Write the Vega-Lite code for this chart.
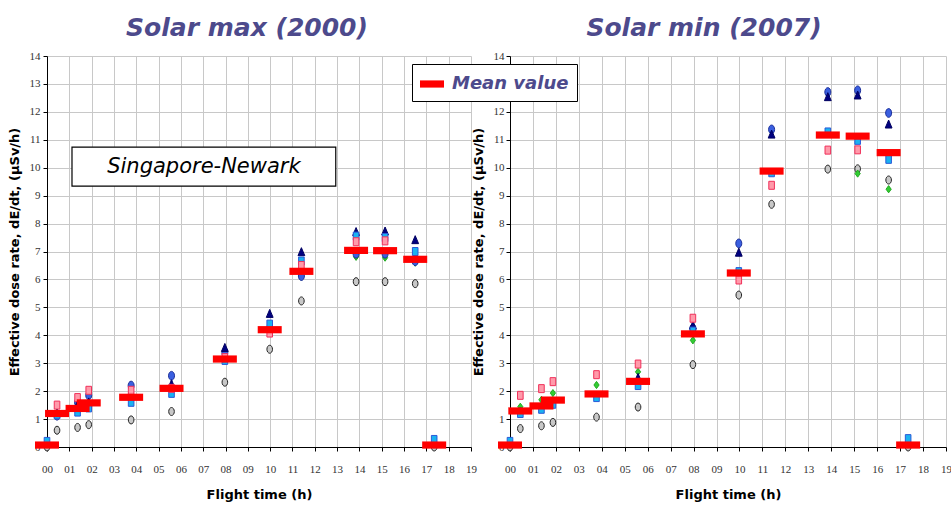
{
  "$schema": "https://vega.github.io/schema/vega-lite/v6.json",
  "padding": {"left": 8, "top": 16, "right": 2, "bottom": 2},
  "bounds": "flush",
  "spacing": 39,
  "config": {
    "view": {"stroke": null},
    "axis": {
      "gridColor": "#c8c8c8", "gridWidth": 1, "domainColor": "#000000", "tickColor": "#000000", "tickSize": 4,
      "labelFont": "Liberation Sans Narrow", "labelFontSize": 11, "labelColor": "#333333", "labelOverlap": false,
      "titleFont": "DejaVu Sans", "titleFontSize": 13, "titleFontWeight": "bold", "titleColor": "#000000"
    },
    "title": {"font": "DejaVu Sans", "fontSize": 25, "fontStyle": "italic", "fontWeight": "bold", "color": "#4d4a8c", "anchor": "middle", "offset": 9}
  },
  "datasets": {
    "max": [
      {"s":"s6","h":0,"v":0},{"s":"s3","h":0,"v":0.2},{"s":"Mean value","h":0,"v":0.07},
      {"s":"s6","h":0.45,"v":0.6},{"s":"s1","h":0.45,"v":1.12},{"s":"s2","h":0.45,"v":1.22},{"s":"s3","h":0.45,"v":1.15},{"s":"s4","h":0.45,"v":1.5},{"s":"Mean value","h":0.45,"v":1.2},
      {"s":"s6","h":1.37,"v":0.7},{"s":"s1","h":1.37,"v":1.6},{"s":"s2","h":1.37,"v":1.5},{"s":"s3","h":1.37,"v":1.25},{"s":"s4","h":1.37,"v":1.77},{"s":"Mean value","h":1.37,"v":1.38},
      {"s":"s6","h":1.87,"v":0.8},{"s":"s1","h":1.87,"v":1.85},{"s":"s2","h":1.87,"v":1.6},{"s":"s3","h":1.87,"v":1.4},{"s":"s4","h":1.87,"v":2.03},{"s":"Mean value","h":1.87,"v":1.58},
      {"s":"s6","h":3.77,"v":0.97},{"s":"s1","h":3.77,"v":2.2},{"s":"s2","h":3.77,"v":1.95},{"s":"s3","h":3.77,"v":1.6},{"s":"s4","h":3.77,"v":2.03},{"s":"Mean value","h":3.77,"v":1.78},
      {"s":"s6","h":5.58,"v":1.27},{"s":"s1","h":5.58,"v":2.55},{"s":"s2","h":5.58,"v":2.25},{"s":"s3","h":5.58,"v":1.92},{"s":"s4","h":5.58,"v":2.1},{"s":"Mean value","h":5.58,"v":2.1},
      {"s":"s6","h":7.97,"v":2.32},{"s":"s1","h":7.97,"v":3.38},{"s":"s2","h":7.97,"v":3.55},{"s":"s3","h":7.97,"v":3.1},{"s":"s4","h":7.97,"v":3.2},{"s":"Mean value","h":7.97,"v":3.15},
      {"s":"s6","h":9.98,"v":3.5},{"s":"s1","h":9.98,"v":4.25},{"s":"s2","h":9.98,"v":4.77},{"s":"s3","h":9.98,"v":4.4},{"s":"s4","h":9.98,"v":4.08},{"s":"Mean value","h":9.98,"v":4.2},
      {"s":"s6","h":11.4,"v":5.23},{"s":"s5","h":11.4,"v":6.1},{"s":"s1","h":11.4,"v":6.12},{"s":"s2","h":11.4,"v":6.98},{"s":"s3","h":11.4,"v":6.66},{"s":"s4","h":11.4,"v":6.5},{"s":"Mean value","h":11.4,"v":6.29},
      {"s":"s6","h":13.85,"v":5.92},{"s":"s5","h":13.85,"v":6.81},{"s":"s1","h":13.85,"v":6.92},{"s":"s2","h":13.85,"v":7.7},{"s":"s3","h":13.85,"v":7.55},{"s":"s4","h":13.85,"v":7.35},{"s":"Mean value","h":13.85,"v":7.04},
      {"s":"s6","h":15.15,"v":5.92},{"s":"s5","h":15.15,"v":6.78},{"s":"s1","h":15.15,"v":6.92},{"s":"s2","h":15.15,"v":7.72},{"s":"s3","h":15.15,"v":7.5},{"s":"s4","h":15.15,"v":7.38},{"s":"Mean value","h":15.15,"v":7.03},
      {"s":"s6","h":16.5,"v":5.85},{"s":"s5","h":16.5,"v":6.6},{"s":"s1","h":16.5,"v":6.65},{"s":"s2","h":16.5,"v":7.41},{"s":"s3","h":16.5,"v":7.0},{"s":"Mean value","h":16.5,"v":6.72},
      {"s":"s6","h":17.35,"v":0},{"s":"s3","h":17.35,"v":0.27},{"s":"Mean value","h":17.35,"v":0.07}
    ],
    "min": [
      {"s":"s6","h":0,"v":0},{"s":"s3","h":0,"v":0.2},{"s":"Mean value","h":0,"v":0.07},
      {"s":"s6","h":0.45,"v":0.66},{"s":"s5","h":0.45,"v":1.44},{"s":"s1","h":0.45,"v":1.25},{"s":"s3","h":0.45,"v":1.2},{"s":"s4","h":0.45,"v":1.85},{"s":"Mean value","h":0.45,"v":1.29},
      {"s":"s6","h":1.37,"v":0.76},{"s":"s5","h":1.37,"v":1.69},{"s":"s3","h":1.37,"v":1.35},{"s":"s4","h":1.37,"v":2.09},{"s":"Mean value","h":1.37,"v":1.47},
      {"s":"s6","h":1.87,"v":0.88},{"s":"s5","h":1.87,"v":1.93},{"s":"s3","h":1.87,"v":1.53},{"s":"s4","h":1.87,"v":2.34},{"s":"Mean value","h":1.87,"v":1.68},
      {"s":"s6","h":3.77,"v":1.07},{"s":"s5","h":3.77,"v":2.22},{"s":"s3","h":3.77,"v":1.77},{"s":"s4","h":3.77,"v":2.59},{"s":"Mean value","h":3.77,"v":1.9},
      {"s":"s6","h":5.58,"v":1.43},{"s":"s5","h":5.58,"v":2.69},{"s":"s2","h":5.58,"v":2.48},{"s":"s3","h":5.58,"v":2.2},{"s":"s4","h":5.58,"v":2.97},{"s":"Mean value","h":5.58,"v":2.35},
      {"s":"s6","h":7.97,"v":2.95},{"s":"s5","h":7.97,"v":3.82},{"s":"s1","h":7.97,"v":4.25},{"s":"s2","h":7.97,"v":4.35},{"s":"s3","h":7.97,"v":4.15},{"s":"s4","h":7.97,"v":4.61},{"s":"Mean value","h":7.97,"v":4.05},
      {"s":"s6","h":9.97,"v":5.44},{"s":"s1","h":9.97,"v":7.29},{"s":"s2","h":9.97,"v":6.96},{"s":"s3","h":9.97,"v":6.28},{"s":"s4","h":9.97,"v":5.98},{"s":"Mean value","h":9.97,"v":6.23},
      {"s":"s6","h":11.4,"v":8.69},{"s":"s1","h":11.4,"v":11.37},{"s":"s2","h":11.4,"v":11.19},{"s":"s3","h":11.4,"v":9.82},{"s":"s4","h":11.4,"v":9.37},{"s":"Mean value","h":11.4,"v":9.88},
      {"s":"s6","h":13.85,"v":9.95},{"s":"s1","h":13.85,"v":12.71},{"s":"s2","h":13.85,"v":12.53},{"s":"s3","h":13.85,"v":11.28},{"s":"s4","h":13.85,"v":10.63},{"s":"Mean value","h":13.85,"v":11.17},
      {"s":"s6","h":15.15,"v":9.96},{"s":"s5","h":15.15,"v":9.79},{"s":"s1","h":15.15,"v":12.77},{"s":"s2","h":15.15,"v":12.59},{"s":"s3","h":15.15,"v":10.98},{"s":"s4","h":15.15,"v":10.64},{"s":"Mean value","h":15.15,"v":11.13},
      {"s":"s6","h":16.5,"v":9.56},{"s":"s5","h":16.5,"v":9.23},{"s":"s1","h":16.5,"v":11.96},{"s":"s2","h":16.5,"v":11.55},{"s":"s3","h":16.5,"v":10.3},{"s":"Mean value","h":16.5,"v":10.54},
      {"s":"s6","h":17.35,"v":0},{"s":"s3","h":17.35,"v":0.3},{"s":"Mean value","h":17.35,"v":0.07}
    ]
  },
  "hconcat": [
    {
      "width": 424, "height": 391,
      "title": {"text": "Solar max (2000)", "dx": -12},
      "data": {"name": "max"},
      "encoding": {
        "x": {"field": "h", "type": "quantitative", "scale": {"domain": [0, 19], "nice": false},
              "axis": {"values": [0,1,2,3,4,5,6,7,8,9,10,11,12,13,14,15,16,17,18,19], "format": "02d", "labelFlush": false, "labelPadding": 12, "title": "Flight time (h)", "titlePadding": 14}},
        "y": {"field": "v", "type": "quantitative", "scale": {"domain": [0, 14], "nice": false},
              "axis": {"values": [0,1,2,3,4,5,6,7,8,9,10,11,12,13,14], "labelPadding": 3, "title": "Effective dose rate, dE/dt, (µSv/h)", "titlePadding": 8}}
      },
      "layer": [
        {
          "transform": [{"filter": "datum.s != 'Mean value'"}],
          "mark": {"type": "point", "filled": true, "size": 64, "strokeWidth": 1, "opacity": 1},
          "encoding": {
            "shape": {"field": "s", "type": "nominal", "legend": null, "scale": {"domain": ["s1","s2","s3","s4","s5","s6"], "range": ["M0,-1.1A0.75,1.1,0,1,1,0,1.1A0.75,1.1,0,1,1,0,-1.1Z", "M0,-1.1L0.85,0.9L-0.85,0.9Z", "M-0.7,-1H0.7V1H-0.7Z", "M-0.7,-1H0.7V1H-0.7Z", "M0,-0.9L0.65,0L0,0.9L-0.65,0Z", "M0,-1A0.7,1,0,1,1,0,1A0.7,1,0,1,1,0,-1Z"]}},
            "fill": {"field": "s", "type": "nominal", "legend": null, "scale": {"domain": ["s1","s2","s3","s4","s5","s6"], "range": ["#3a5fe0", "#000080", "#1ab2f0", "#ff9aaa", "#33cc33", "#c8c8c8"]}},
            "stroke": {"field": "s", "type": "nominal", "legend": null, "scale": {"domain": ["s1","s2","s3","s4","s5","s6"], "range": ["#1c2f9a", "#000060", "#2a5ad8", "#f0305a", "#22aa22", "#222222"]}}
          }
        },
        {
          "transform": [{"filter": "datum.s == 'Mean value'"}],
          "mark": {"type": "point", "filled": true, "shape": "M-1,-0.3H1V0.3H-1Z", "size": 576, "opacity": 1},
          "encoding": {
            "color": {"field": "s", "type": "nominal", "scale": {"domain": ["Mean value"], "range": ["#ff0000"]},
                      "legend": {"orient": "none", "legendX": 365, "legendY": 8, "title": null, "symbolType": "M-1,-0.3H1V0.3H-1Z", "symbolSize": 576, "symbolStrokeWidth": 0, "symbolFillColor": "#ff0000", "labelFont": "DejaVu Sans", "labelFontSize": 18, "labelFontStyle": "italic", "labelFontWeight": "bold", "labelColor": "#4d4a8c", "labelOffset": 8, "fillColor": "#ffffff", "strokeColor": "#000000", "padding": 8}}
          }
        },
        {
          "data": {"values": [{"x1": 1.12, "x2": 12.94, "y1": 9.34, "y2": 10.74, "label": "Singapore-Newark", "xc": 7.03, "yc": 10.04}]},
          "layer": [
            {
              "mark": {"type": "rect", "fill": "#ffffff", "stroke": "#000000", "strokeWidth": 1.2},
              "encoding": {
                "x": {"field": "x1", "type": "quantitative"}, "x2": {"field": "x2"},
                "y": {"field": "y1", "type": "quantitative"}, "y2": {"field": "y2"}
              }
            },
            {
              "mark": {"type": "text", "font": "DejaVu Sans", "fontSize": 21, "fontStyle": "italic", "color": "#000000", "align": "center", "baseline": "middle"},
              "encoding": {
                "x": {"field": "xc", "type": "quantitative"},
                "y": {"field": "yc", "type": "quantitative"},
                "text": {"field": "label"}
              }
            }
          ]
        }
      ]
    },
    {
      "width": 436, "height": 391,
      "title": {"text": "Solar min (2007)", "dx": -24},
      "data": {"name": "min"},
      "encoding": {
        "x": {"field": "h", "type": "quantitative", "scale": {"domain": [0, 19], "nice": false},
              "axis": {"values": [0,1,2,3,4,5,6,7,8,9,10,11,12,13,14,15,16,17,18,19], "format": "02d", "labelFlush": false, "labelPadding": 12, "title": "Flight time (h)", "titlePadding": 14}},
        "y": {"field": "v", "type": "quantitative", "scale": {"domain": [0, 14], "nice": false},
              "axis": {"values": [0,1,2,3,4,5,6,7,8,9,10,11,12,13,14], "labelPadding": 2, "title": "Effective dose rate, dE/dt, (µSv/h)", "titlePadding": 8}}
      },
      "layer": [
        {
          "transform": [{"filter": "datum.s != 'Mean value'"}],
          "mark": {"type": "point", "filled": true, "size": 64, "strokeWidth": 1, "opacity": 1},
          "encoding": {
            "shape": {"field": "s", "type": "nominal", "legend": null},
            "fill": {"field": "s", "type": "nominal", "legend": null},
            "stroke": {"field": "s", "type": "nominal", "legend": null}
          }
        },
        {
          "transform": [{"filter": "datum.s == 'Mean value'"}],
          "mark": {"type": "point", "filled": true, "shape": "M-1,-0.3H1V0.3H-1Z", "size": 576, "opacity": 1},
          "encoding": {
            "color": {"field": "s", "type": "nominal"}
          }
        }
      ]
    }
  ]
}
